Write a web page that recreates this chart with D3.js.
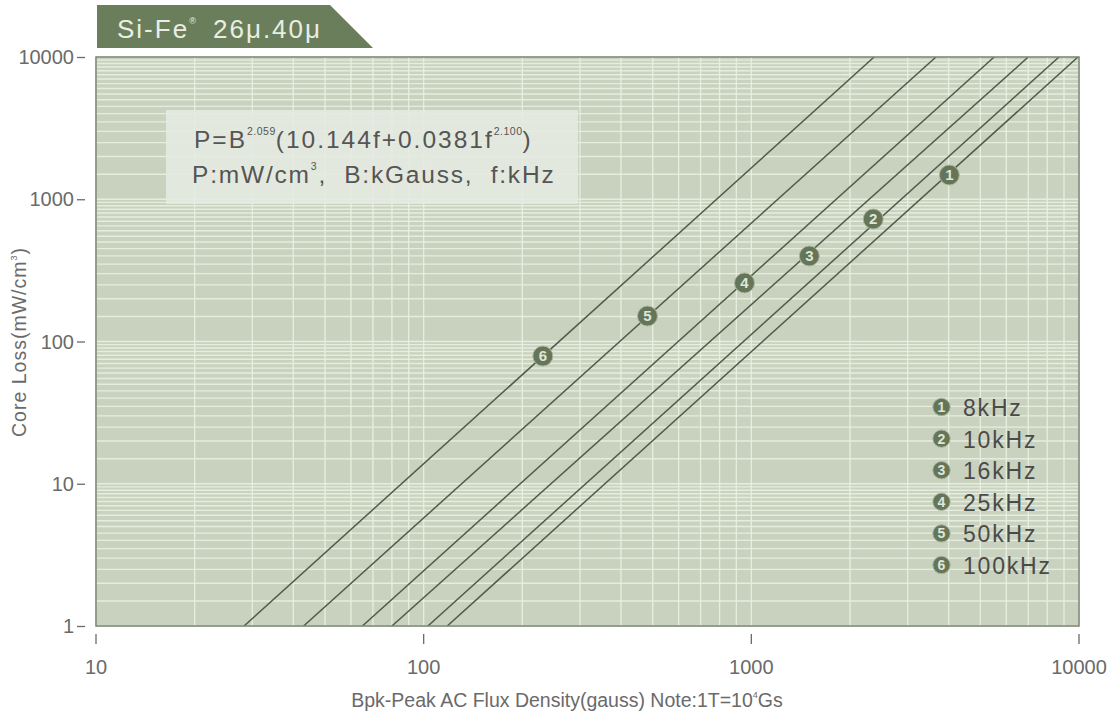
<!DOCTYPE html>
<html><head><meta charset="utf-8">
<script src="https://cdn.jsdelivr.net/npm/d3@7"></script>
<style>body{margin:0;background:#fff;}svg{display:block;font-family:"Liberation Sans",Arial,sans-serif;}text{white-space:pre;}</style>
</head><body>
<svg id="c" width="1118" height="719"></svg>
<script>
// ---- data ----
const seriesNames = ["8kHz","10kHz","16kHz","25kHz","50kHz","100kHz"];
const seriesIds = ["1","2","3","4","5","6"];
const lineP = [1, 10000];                       // core loss endpoints (mW/cm3)
const lineBstart = [118, 103, 80, 65, 43, 28.3]; // B (gauss) at P=1
const lineBend = [9930, 8690, 7000, 5510, 3660, 2370]; // B (gauss) at P=10000
const markerB = [4020, 2355, 1503, 953, 482, 231];
const markerP = [1480, 726, 399, 258, 151, 79];
const xTicks = [10, 100, 1000, 10000];
const yTicks = [1, 10, 100, 1000, 10000];

const svg = d3.select("#c");
const m = {l:96, r:1079, t:57, b:626};
const x = d3.scaleLog().domain([10,10000]).range([m.l,m.r]);
const y = d3.scaleLog().domain([1,10000]).range([m.b,m.t]);

const bg = "#c8d2be", gridC = "#eaf0e3", lineC = "#505c4a", mk = "#647558";

// title tab
svg.append("path").attr("d","M97,5 L330,5 L373,48 L97,48 Z").attr("fill","#6b7e5b");
svg.append("text").attr("x",117).attr("y",38).attr("fill","#e9eee2").attr("font-size",26).attr("letter-spacing",2)
  .html('Si-Fe<tspan font-size="9" dy="-14">®</tspan>');
svg.append("text").attr("x",213).attr("y",38).attr("fill","#e9eee2").attr("font-size",26).attr("letter-spacing",2)
  .text('26μ.40μ');

// plot background
svg.append("rect").attr("x",m.l).attr("y",m.t).attr("width",m.r-m.l).attr("height",m.b-m.t).attr("fill",bg);

// grid
const g = svg.append("g");
const xMinor = [];
[10,100,1000].forEach(d=>{for(let k=2;k<=9;k++) xMinor.push(k*d);});
const yMinor = [];
[1,10,100,1000].forEach(d=>{for(let k=1.5;k<10;k+=0.5) yMinor.push(k*d);});
g.selectAll(".vx").data(xMinor.concat(xTicks)).join("line")
  .attr("x1",d=>x(d)).attr("x2",d=>x(d)).attr("y1",m.t).attr("y2",m.b)
  .attr("stroke",gridC).attr("stroke-width",1.4).attr("opacity",0.9);
g.selectAll(".hy").data(yMinor.concat(yTicks)).join("line")
  .attr("y1",d=>y(d)).attr("y2",d=>y(d)).attr("x1",m.l).attr("x2",m.r)
  .attr("stroke",gridC).attr("stroke-width",1.4).attr("opacity",0.9);

// formula box
svg.append("rect").attr("x",166).attr("y",110).attr("width",412).attr("height",94)
  .attr("fill","#e6eae2").attr("opacity",0.88);
svg.append("text").attr("x",194).attr("y",148).attr("fill","#555").attr("font-size",24.5).attr("letter-spacing",2)
  .html('P=B<tspan font-size="10.5" letter-spacing="0.5" dy="-13">2.059</tspan><tspan dy="13">(10.144f+0.0381f</tspan><tspan font-size="10.5" letter-spacing="0.5" dy="-13">2.100</tspan><tspan dy="13">)</tspan>');
svg.append("text").attr("x",192).attr("y",183).attr("fill","#555").attr("font-size",24.5).attr("letter-spacing",1.8)
  .html('P:mW/cm<tspan font-size="10.5" dy="-13">3</tspan><tspan dy="13">,  B:kGauss,  f:kHz</tspan>');

// lines
svg.append("clipPath").attr("id","clip").append("rect")
  .attr("x",m.l).attr("y",m.t).attr("width",m.r-m.l).attr("height",m.b-m.t);
const lg = svg.append("g").attr("clip-path","url(#clip)");
const lineGen = d3.line().x(d=>x(d[0])).y(d=>y(d[1]));
seriesNames.forEach((s,i)=>{
  lg.append("path").datum([[lineBstart[i],lineP[0]],[lineBend[i],lineP[1]]])
    .attr("d",lineGen).attr("fill","none").attr("stroke",lineC).attr("stroke-width",1.5);
});

// border
svg.append("rect").attr("x",m.l).attr("y",m.t).attr("width",m.r-m.l).attr("height",m.b-m.t)
  .attr("fill","none").attr("stroke","#7b8372").attr("stroke-width",1.5);

// markers
function marker(cx,cy,label,r,fs){
  svg.append("circle").attr("cx",cx).attr("cy",cy).attr("r",r).attr("fill",mk)
    .attr("stroke","#a9b59e").attr("stroke-width",1);
  svg.append("text").attr("x",cx).attr("y",cy+fs*0.36).attr("text-anchor","middle")
    .attr("fill","#dfe6d8").attr("font-size",fs).attr("font-weight","bold").text(label);
}
seriesIds.forEach((id,i)=>marker(x(markerB[i]),y(markerP[i]),id,10,15));

// legend
seriesNames.forEach((s,i)=>{
  const cy = 407 + i*31.6;
  marker(941.5,cy,seriesIds[i],8.7,14);
  svg.append("text").attr("x",963).attr("y",cy+9).attr("fill","#4a4a4a").attr("font-size",23)
    .attr("letter-spacing",1.8).text(s);
});

// axes
const axC = "#6a6a6a";
yTicks.forEach(v=>{
  svg.append("text").attr("x",74).attr("y",y(v)+7).attr("text-anchor","end")
    .attr("fill",axC).attr("font-size",20).text(d3.format("d")(v));
  svg.append("line").attr("x1",77).attr("x2",85).attr("y1",y(v)+0.5).attr("y2",y(v)+0.5)
    .attr("stroke",axC).attr("stroke-width",1.3);
});
xTicks.forEach(v=>{
  svg.append("line").attr("x1",x(v)).attr("x2",x(v)).attr("y1",m.b+8).attr("y2",m.b+18)
    .attr("stroke",axC).attr("stroke-width",1.3);
  svg.append("text").attr("x",x(v)).attr("y",674).attr("text-anchor","middle")
    .attr("fill",axC).attr("font-size",20).text(v);
});
svg.append("text").attr("x",567).attr("y",707).attr("text-anchor","middle").attr("fill",axC).attr("font-size",19.5)
  .html('Bpk-Peak AC Flux Density(gauss) Note:1T=10<tspan font-size="9" dy="-9">4</tspan><tspan dy="9">Gs</tspan>');
svg.append("text").attr("transform","translate(26,342) rotate(-90)").attr("text-anchor","middle")
  .attr("fill",axC).attr("font-size",19.5).attr("letter-spacing",1)
  .html('Core Loss(mW/cm<tspan font-size="9" dy="-9">3</tspan><tspan dy="9">)</tspan>');
</script>
</body></html>
